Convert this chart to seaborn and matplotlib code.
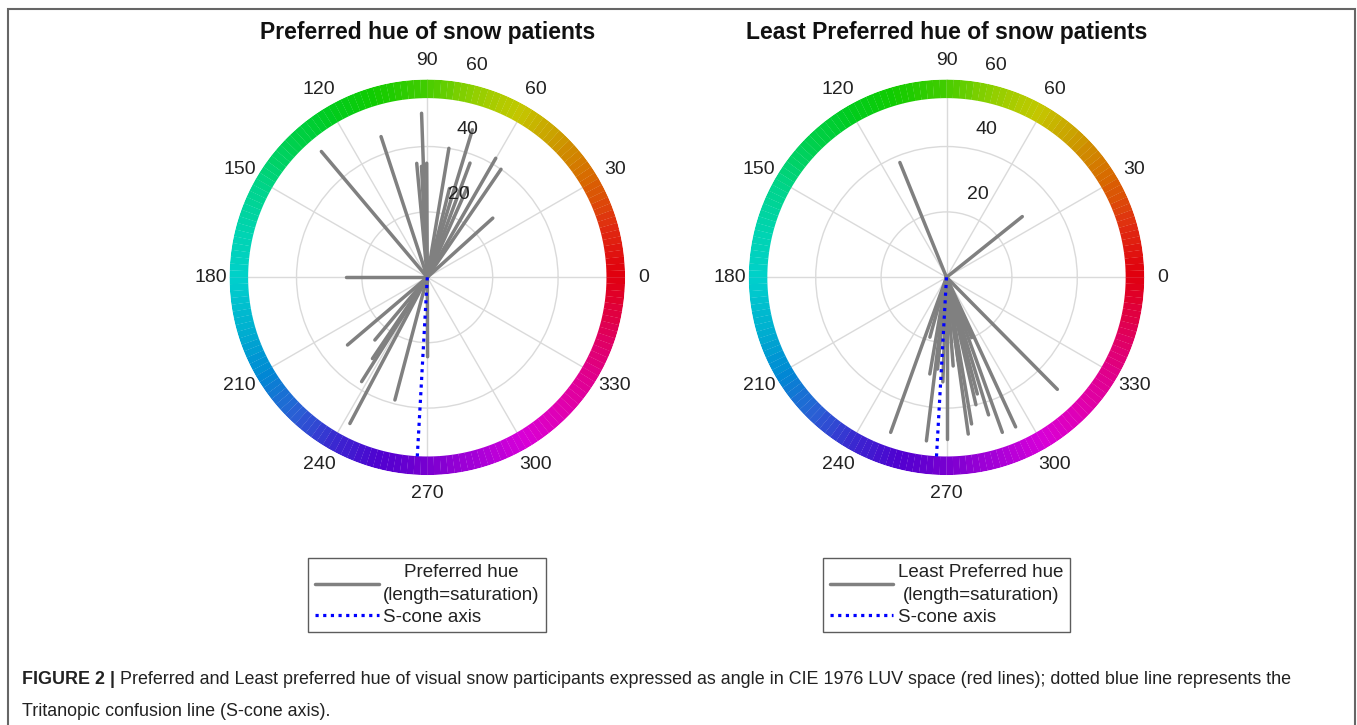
import numpy as np
import pandas as pd
import matplotlib
matplotlib.use('Agg')
import matplotlib.pyplot as plt
import seaborn as sns
from matplotlib.colors import LinearSegmentedColormap
from matplotlib.lines import Line2D
from matplotlib.patches import Rectangle

# hue angle (deg) and saturation of each participant
pref_angle = [92.0, 130.1, 108.2, 95.3, 90.3, 93.0, 80.5, 73.0, 69.5, 60.1,
              55.7, 42.1, 66.0, 76.0, 180.0, 220.3, 230.1, 236.0, 237.8,
              242.1, 255.2, 270.2]
pref_sat = [50.2, 50.3, 45.3, 35.0, 34.9, 34.0, 40.0, 47.2, 37.3, 42.0,
            40.0, 27.0, 30.0, 28.0, 25.0, 32.0, 25.0, 30.0, 37.7,
            50.6, 38.8, 24.3]

least_angle = [112.1, 38.7, 314.7, 250.2, 263.0, 270.0, 277.9, 279.7, 289.8,
               294.8, 260.2, 274.3, 254.5, 292.6, 278.0, 264.4, 284.8, 268.0,
               283.0, 287.0]
least_sat = [37.9, 29.7, 48.2, 50.4, 50.4, 49.5, 48.4, 45.5, 50.4,
             50.4, 30.0, 27.2, 19.0, 20.0, 25.8, 28.2, 36.9, 32.0,
             40.0, 44.0]

scone_angle = 266.8
scone_sat = 55.4

angle_ticks = list(range(0, 360, 30))
sat_ticks = [20, 40, 60]

# colours of the hue ring
ring_angles = [0, 15, 30, 45, 60, 75, 90, 105, 120, 135, 150, 165, 180,
               195, 210, 225, 240, 255, 270, 285, 300, 315, 330, 345, 360]
ring_colors = ['#e0000e', '#e03010', '#d86800', '#cc9a00', '#c4c800', '#8ed000',
               '#40cc00', '#10cc00', '#00cc20', '#00d050', '#00d488', '#00d4b0',
               '#00d0cc', '#00b0d0', '#0088d4', '#2a60d4', '#3a28d0', '#5000d0',
               '#7a00d0', '#a800d8', '#d800d8', '#e000b0', '#e00088', '#e00050',
               '#e0000e']

sns.set_theme(style='white')
plt.rcParams['font.family'] = ['Liberation Sans', 'DejaVu Sans']

hue_cmap = LinearSegmentedColormap.from_list(
    'luv_hue', list(zip(np.array(ring_angles) / 360, ring_colors)))

W, H = 1357, 725
fig = plt.figure(figsize=(W / 100, H / 100), dpi=100)

R_MAX = 60.5
R_PIX = 197.8


def panel(cx, cy, angles, sats, title, label, legend_y):
    ax = fig.add_axes([(cx - R_PIX) / W, (H - cy - R_PIX) / H, 2 * R_PIX / W, 2 * R_PIX / H],
                      projection='polar')
    ax.set_axisbelow(True)

    # spokes: centre -> tip, one unit per participant
    df = pd.DataFrame({
        'theta': np.deg2rad(np.repeat(angles, 2)),
        'r': np.ravel([[0, s] for s in sats]),
        'spoke': np.repeat(np.arange(len(angles)), 2),
    })
    sns.lineplot(data=df, x='theta', y='r', units='spoke', estimator=None, sort=False,
                 color='#808080', lw=2.5, ax=ax, legend=False, zorder=3)
    ax.plot(np.deg2rad([scone_angle, scone_angle]), [0, scone_sat], color='#0000ff',
            lw=2.3, ls=(0, (1, 1.4)), dash_capstyle='butt', zorder=4)

    # hue ring
    th = np.arange(0, 360, 2)
    ax.bar(np.deg2rad(th + 1), R_MAX - 54.8, width=np.deg2rad(2.05), bottom=54.8,
           color=hue_cmap(th / 360), edgecolor='none', zorder=2)

    ax.set_ylim(0, R_MAX)
    ax.set_yticks(sat_ticks)
    ax.set_yticklabels([])
    ax.set_xticks(np.deg2rad(angle_ticks))
    ax.set_xticklabels([str(a) for a in angle_ticks], fontsize=14, color='#222222')
    ax.tick_params(axis='x', pad=0.5)
    ax.grid(True, color='#dadada', lw=1.0)
    ax.spines['polar'].set_visible(False)
    ax.set_xlabel('')
    ax.set_ylabel('')
    for s in sat_ticks:
        ax.annotate(str(s), xy=(np.deg2rad(82), s), xytext=(22, 18),
                    textcoords='offset pixels', ha='center', va='center',
                    fontsize=14, color='#222222', zorder=5, annotation_clip=False)

    fig.text(cx / W, 1 - 33 / H, title, ha='center', va='center',
             fontsize=16.5, weight='bold', color='#111111')

    handles = [Line2D([], [], color='#808080', lw=2.5),
               Line2D([], [], color='#0000ff', lw=2.3, ls=(0, (1, 1.4)), dash_capstyle='butt')]
    leg = fig.legend(handles, [label + '\n(length=saturation)', 'S-cone axis'],
                     loc='center', bbox_to_anchor=(cx / W, 1 - legend_y / H),
                     frameon=True, fancybox=False, fontsize=13.5, handlelength=3.4,
                     handletextpad=0.25, borderpad=0.35, labelspacing=0.25,
                     borderaxespad=0)
    leg.get_frame().set_edgecolor('#333333')
    leg.get_frame().set_linewidth(1.0)
    for t in leg.get_texts():
        t.set_multialignment('center')
        t.set_linespacing(1.4)
        t.set_color('#222222')
    return ax


panel(427.3, 277.3, pref_angle, pref_sat, 'Preferred hue of snow patients',
      'Preferred hue', 595)
panel(946.5, 277.3, least_angle, least_sat, 'Least Preferred hue of snow patients',
      'Least Preferred hue', 595)

# outer frame of the figure panel
fig.patches.append(Rectangle((8 / W, -0.05), (1355 - 8) / W, 1.05 - 9 / H,
                             transform=fig.transFigure, fill=False,
                             edgecolor='#666666', lw=1.5))

cap_size = 12.9
t1 = fig.text(22 / W, 1 - 680 / H, 'FIGURE 2 |', ha='left', va='center',
              fontsize=cap_size, weight='bold', color='#222222')
fig.canvas.draw()
bb = t1.get_window_extent()
fig.text((bb.x1 + 5) / W, 1 - 680 / H,
         'Preferred and Least preferred hue of visual snow participants expressed as '
         'angle in CIE 1976 LUV space (red lines); dotted blue line represents the',
         ha='left', va='center', fontsize=cap_size, color='#222222')
fig.text(22 / W, 1 - 712 / H, 'Tritanopic confusion line (S-cone axis).',
         ha='left', va='center', fontsize=cap_size, color='#222222')

fig.savefig('out.png', dpi=100)
